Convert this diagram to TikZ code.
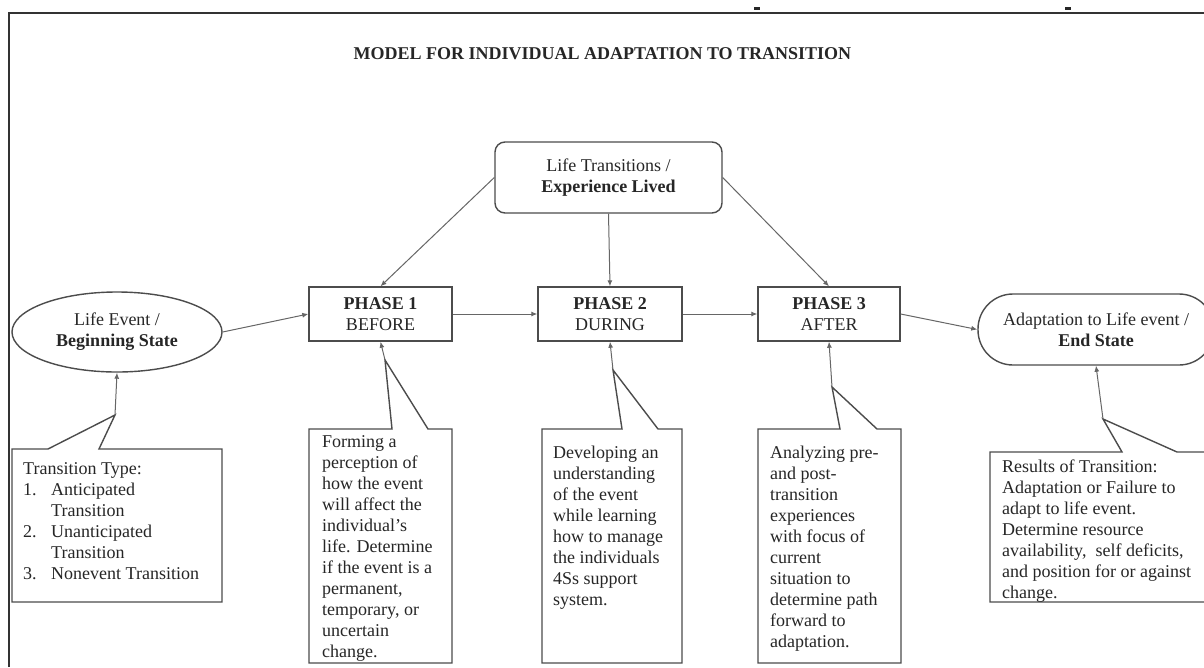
\documentclass[tikz,border=0pt]{standalone}
\usepackage{fontspec}
\setmainfont{Liberation Serif}
\usetikzlibrary{shapes.geometric,arrows.meta}
\begin{document}
\begin{tikzpicture}[x=1pt,y=-1pt,
  txt/.style={text=black!85, font=\fontsize{18}{21}\selectfont},
  shapebox/.style={txt, draw=black!70, line width=1.4pt, fill=white, align=center, inner sep=0pt},
  pbox/.style={shapebox, minimum height=54pt},
  callout/.style={draw=black!70, line width=1.4pt, fill=white, line join=miter},
  ctext/.style={txt, align=left, inner sep=0pt, anchor=north west},
  conn/.style={draw=black!60, line width=1pt, -{Latex[length=6pt,width=5pt]}}
]
\useasboundingbox (0,0) rectangle (1204,667);
\fill[white] (0,0) rectangle (1204,667);

% frame and marks
\draw[line width=2pt, black!80] (9,667) -- (9,13) -- (1210,13);
\fill[black!85] (754,7) rectangle (760,10);
\fill[black!85] (1065,7) rectangle (1071,10);

% title
\node[txt, font=\fontsize{18}{21}\selectfont\bfseries, inner sep=0pt] (title) at (602.5,54) {MODEL FOR INDIVIDUAL ADAPTATION TO TRANSITION};

% main nodes
\node[shapebox, rounded corners=10pt, minimum width=227pt, minimum height=71pt] (top) at (608.5,177.5) {Life Transitions /\\\textbf{Experience Lived}};
\node[shapebox, ellipse, minimum width=210pt, minimum height=80pt] (life) at (117,332) {Life Event /\\\textbf{Beginning State}};
\node[pbox, minimum width=143pt] (p1) at (380.5,314) {\textbf{PHASE 1}\\BEFORE};
\node[pbox, minimum width=144pt] (p2) at (610,314) {\textbf{PHASE 2}\\DURING};
\node[pbox, minimum width=142pt] (p3) at (829,314) {\textbf{PHASE 3}\\AFTER};
\node[shapebox, rounded corners=35pt, minimum width=236pt, minimum height=71pt] (endst) at (1096,329.5) {Adaptation to Life event /\\\textbf{End State}};

% connectors
\draw[conn] (top.west) -- (p1.north);
\draw[conn] (top.south) -- (p2.north);
\draw[conn] (top.east) -- (p3.north);
\draw[conn] (life.east) -- (p1.west);
\draw[conn] (p1.east) -- (p2.west);
\draw[conn] (p2.east) -- (p3.west);
\draw[conn] (p3.east) -- (endst.west);

% callout tips
\coordinate (t0) at (115,415);
\coordinate (t1) at (385,360);
\coordinate (t2) at (613,370);
\coordinate (t3) at (832,387);
\coordinate (t4) at (1103,419);

% callout shapes
\draw[callout] (12,449) -- (48,449) -- (t0) -- (99,449) -- (222,449) -- (222,602) -- (12,602) -- cycle;
\draw[callout] (309,429) -- (392,429) -- (t1) -- (428,429) -- (452,429) -- (452,663) -- (309,663) -- cycle;
\draw[callout] (542,429) -- (622,429) -- (t2) -- (658,429) -- (682,429) -- (682,663) -- (542,663) -- cycle;
\draw[callout] (758,429) -- (840,429) -- (t3) -- (877,429) -- (901,429) -- (901,663) -- (758,663) -- cycle;
\draw[callout] (990,452) -- (1122,452) -- (t4) -- (1177,452) -- (1220,452) -- (1220,602) -- (990,602) -- cycle;

% callout connectors
\draw[conn] (t0) -- (life.south);
\draw[conn] (t1) -- (p1.south);
\draw[conn] (t2) -- (p2.south);
\draw[conn] (t3) -- (p3.south);
\draw[conn] (t4) -- (endst.south);

% callout texts
\node[ctext] (c0) at (23,462) {Transition Type:\\
\makebox[28pt][l]{1.}Anticipated\\
\hspace*{28pt}Transition\\
\makebox[28pt][l]{2.}Unanticipated\\
\hspace*{28pt}Transition\\
\makebox[28pt][l]{3.}Nonevent Transition};
\node[ctext] (c1) at (322,435.5) {Forming a\\perception of\\how the event\\will affect the\\individual’s\\life. Determine\\if the event is a\\permanent,\\temporary, or\\uncertain\\change.};
\node[ctext] (c2) at (553,446) {Developing an\\understanding\\of the event\\while learning\\how to manage\\the individuals\\4Ss support\\system.};
\node[ctext] (c3) at (770,446) {Analyzing pre-\\and post-\\transition\\experiences\\with focus of\\current\\situation to\\determine path\\forward to\\adaptation.};
\node[ctext] (c4) at (1002,460) {Results of Transition:\\Adaptation or Failure to\\adapt to life event.\\Determine resource\\availability,\ \ self deficits,\\and position for or against\\change.};
\end{tikzpicture}
\end{document}
